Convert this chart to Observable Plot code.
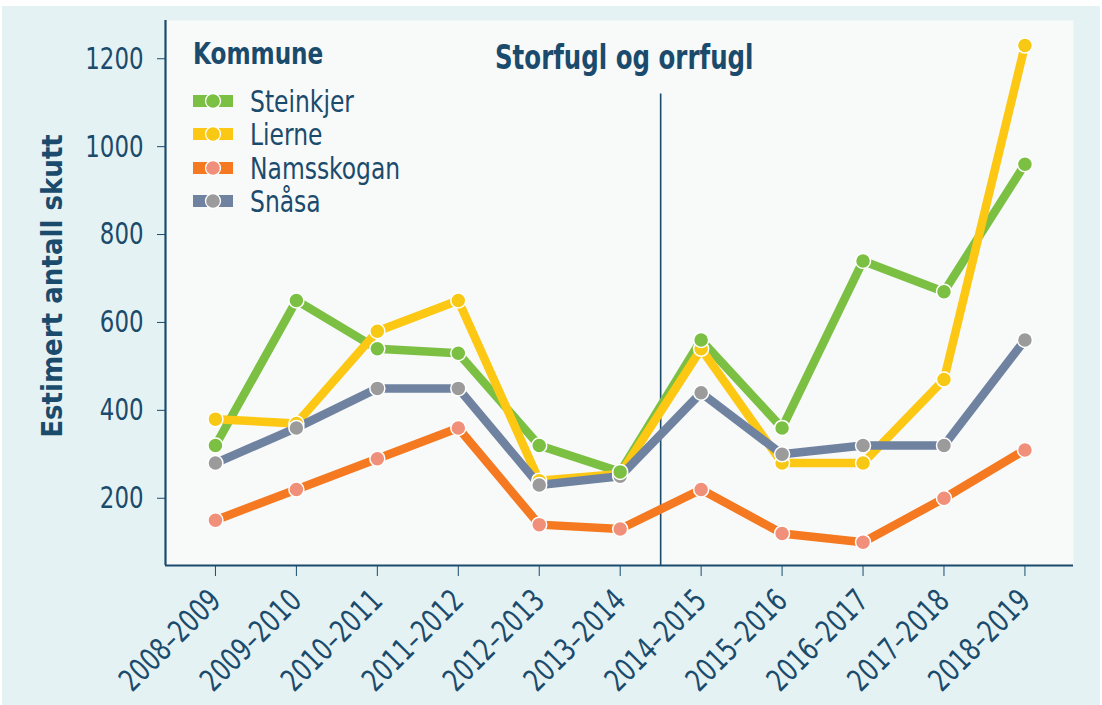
<!DOCTYPE html>
<html>
<head>
<meta charset="utf-8">
<script src="https://cdn.jsdelivr.net/npm/d3@7"></script>
<script src="https://cdn.jsdelivr.net/npm/@observablehq/plot@0.6"></script>
<style>
  html, body { margin: 0; padding: 0; background: #ffffff; }
  #wrap { position: relative; width: 1102px; height: 705px; overflow: hidden; font-family: "DejaVu Sans Condensed", sans-serif; color: #1b4b6c; }
  #bg { position: absolute; left: 2px; top: 6px; width: 1098px; height: 699px; background: #e5f2f4; }
  #chart { position: absolute; left: 0; top: 0; }
  #title { position: absolute; left: 495px; top: 40px; font-size: 34px; font-weight: bold; line-height: 1; white-space: nowrap; transform: scaleX(0.8); transform-origin: 0 0; }
  #legend { position: absolute; left: 193px; top: 38px; }
  #legend .head { font-size: 31px; font-weight: bold; line-height: 1; margin-bottom: 15px; transform: scaleX(0.83); transform-origin: 0 0; }
  #legend .row { display: flex; align-items: center; height: 33.5px; font-size: 31px; }
  #legend .row svg { margin-right: 17px; flex: none; }
  #legend .row span { display: inline-block; transform: scaleX(0.84); transform-origin: 0 50%; white-space: nowrap; }
</style>
</head>
<body>
<div id="wrap">
  <div id="bg"></div>
  <div id="chart"></div>
  <div id="title"></div>
  <div id="legend"></div>
</div>
<script>
const seasons = ["2008–2009","2009–2010","2010–2011","2011–2012","2012–2013","2013–2014","2014–2015","2015–2016","2016–2017","2017–2018","2018–2019"];
const kommuner = ["Steinkjer","Lierne","Namsskogan","Snåsa"];
const steinkjer  = [320, 650, 540, 530, 320, 260, 560, 360, 740, 670, 960];
const lierne     = [380, 370, 580, 650, 240, 255, 540, 280, 280, 470, 1230];
const namsskogan = [150, 220, 290, 360, 140, 130, 220, 120, 100, 200, 310];
const snasa      = [280, 360, 450, 450, 230, 250, 440, 300, 320, 320, 560];
const lineColors  = ["#7bc043", "#fcc813", "#f47920", "#6f82a0"];
const pointColors = ["#7bc043", "#f7c814", "#f0907a", "#9b9b9b"];
const yTicks = [200, 400, 600, 800, 1000, 1200];
const titleText = "Storfugl og orrfugl";
const legendTitle = "Kommune";
const yLabel = "Estimert antall skutt";
const splitAfter = 5.5;
const ruleTop = 1120;

const valuesBy = [steinkjer, lierne, namsskogan, snasa];
const rows = [];
kommuner.forEach((k, ki) => valuesBy[ki].forEach((v, i) => rows.push({i, season: seasons[i], value: v, kommune: k})));

const xDomain = [-0.617, 10.6];
const yDomain = [47, 1287];
const font = '"DejaVu Sans Condensed", sans-serif';
const ink = "#1b4b6c";

const pointOrder = ["Lierne", "Namsskogan", "Snåsa", "Steinkjer"];

const marks = [
  Plot.frame({fill: "#f8f9f9", stroke: null}),
  Plot.axisY({ticks: yTicks, tickFormat: d3.format("d"), tickSize: 8, tickPadding: 14, fontSize: 31, label: null}),
  Plot.axisX({ticks: d3.range(seasons.length), tickFormat: i => seasons[i], tickRotate: -45, tickSize: 11, tickPadding: 19, fontSize: 31, label: null}),
  Plot.text([yLabel], {frameAnchor: "left", textAnchor: "middle", dx: -113, dy: -7, rotate: -90, fontSize: 29, fontWeight: "bold", fill: ink}),
  Plot.ruleX([splitAfter], {y1: yDomain[0], y2: ruleTop, stroke: ink, strokeWidth: 1.6}),
];
kommuner.forEach((k, ki) => {
  marks.push(Plot.line(rows.filter(r => r.kommune === k), {x: "i", y: "value", stroke: lineColors[ki], strokeWidth: 8.5, strokeLinejoin: "round", strokeLinecap: "round"}));
});
pointOrder.forEach(k => {
  const ki = kommuner.indexOf(k);
  marks.push(Plot.dot(rows.filter(r => r.kommune === k), {x: "i", y: "value", r: 7.5, fill: pointColors[ki], stroke: "#ffffff", strokeWidth: 1.5}));
});
marks.push(Plot.ruleX([xDomain[0]], {stroke: ink, strokeWidth: 2.2}));
marks.push(Plot.ruleY([yDomain[0]], {stroke: ink, strokeWidth: 2.2}));

const chart = Plot.plot({
  width: 1102,
  height: 705,
  marginLeft: 165,
  marginRight: 29,
  marginTop: 20,
  marginBottom: 140,
  style: {background: "transparent", fontFamily: font, color: ink, overflow: "visible"},
  x: {type: "linear", domain: xDomain},
  y: {domain: yDomain},
  marks
});
document.getElementById("chart").appendChild(chart);

function condense(root, selector, s) {
  root.querySelectorAll(selector).forEach(el => {
    const w = el.getComputedTextLength();
    if (w > 0) {
      el.setAttribute("textLength", (w * s).toFixed(2));
      el.setAttribute("lengthAdjust", "spacingAndGlyphs");
    }
  });
}
condense(chart, '[aria-label="y-axis tick label"] text', 0.82);
condense(chart, '[aria-label="x-axis tick label"] text', 0.82);

document.getElementById("title").textContent = titleText;
const legend = document.getElementById("legend");
const head = document.createElement("div");
head.className = "head";
head.textContent = legendTitle;
legend.appendChild(head);
kommuner.forEach((k, ki) => {
  const row = document.createElement("div");
  row.className = "row";
  row.innerHTML = `<svg width="40" height="18"><rect x="0" y="3" width="40" height="12" fill="${lineColors[ki]}"/><circle cx="20" cy="9" r="7.5" fill="${pointColors[ki]}" stroke="#fff" stroke-width="1.3"/></svg><span>${k}</span>`;
  legend.appendChild(row);
});
</script>
</body>
</html>
